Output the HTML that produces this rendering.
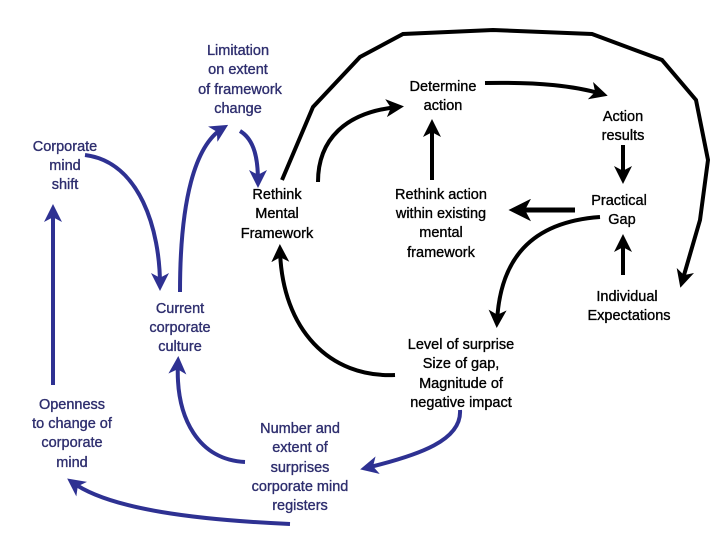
<!DOCTYPE html><html><head><style>body{margin:0;background:#fff}svg{display:block}text{font-family:"Liberation Sans",sans-serif;font-size:14.5px;text-anchor:middle;stroke-width:0.35px}.b{fill:#2e2e6e;stroke:#2e2e6e}.k{fill:#000;stroke:#000}</style></head><body>
<svg width="720" height="540" viewBox="0 0 720 540">
<defs>
<marker id="ak" markerWidth="4.5" markerHeight="4.5" refX="3" refY="2.25" orient="auto"><path d="M0,0 L4.5,2.25 L0,4.5 L1.2,2.25z" fill="#000"/></marker>
<marker id="ab" markerWidth="4.5" markerHeight="4.5" refX="3" refY="2.25" orient="auto"><path d="M0,0 L4.5,2.25 L0,4.5 L1.2,2.25z" fill="#2e3192"/></marker>
</defs>
<g fill="none" stroke="#000" stroke-width="4" marker-end="url(#ak)">
<path d="M282,180 L313,107 L360,57 L403,34 L493,30 L592,34 L662,60 L696,100 L708,160 L700,220 L682,282"/>
<path d="M318,182 C318,140 345,112 398,107"/>
<path d="M485,83 C540,82 575,86 602,94"/>
<path d="M623,145 L623,178"/>
<path d="M623,275 L623,240"/>
<path d="M575,210 L516,210" stroke-width="5"/>
<path d="M432,180 L432,125"/>
<path d="M600,217 C530,222 500,260 497,322"/>
<path d="M395,375 C330,378 282,330 280,250"/>
</g>
<g fill="none" stroke="#2e3192" stroke-width="4" marker-end="url(#ab)">
<path d="M85,155 C140,162 160,230 160,285"/>
<path d="M180,292 C180,200 195,145 223,128"/>
<path d="M240,131 C255,140 258,160 258,182"/>
<path d="M53,385 L53,210"/>
<path d="M245,462 C200,460 175,420 178,362"/>
<path d="M460,410 C462,440 420,455 366,468"/>
<path d="M290,524 C200,520 110,510 72,482"/>
</g>
<g class="b">
<text x="238" y="55">Limitation</text><text x="238" y="74">on extent</text><text x="240" y="94">of framework</text><text x="238" y="113">change</text>
<text x="65" y="151">Corporate</text><text x="65" y="170">mind</text><text x="65" y="189">shift</text>
<text x="180" y="313">Current</text><text x="180" y="332">corporate</text><text x="180" y="351">culture</text>
<text x="72" y="409">Openness</text><text x="72" y="428">to change of</text><text x="72" y="447">corporate</text><text x="72" y="467">mind</text>
<text x="300" y="433">Number and</text><text x="300" y="452">extent of</text><text x="300" y="472">surprises</text><text x="300" y="491">corporate mind</text><text x="300" y="510">registers</text>
</g>
<g class="k">
<text x="277" y="199">Rethink</text><text x="277" y="218">Mental</text><text x="277" y="238">Framework</text>
<text x="443" y="91">Determine</text><text x="443" y="110">action</text>
<text x="623" y="121">Action</text><text x="623" y="140">results</text>
<text x="441" y="199">Rethink action</text><text x="441" y="218">within existing</text><text x="441" y="237">mental</text><text x="441" y="257">framework</text>
<text x="619" y="205">Practical</text><text x="622" y="224">Gap</text>
<text x="627" y="301">Individual</text><text x="629" y="320">Expectations</text>
<text x="461" y="349">Level of surprise</text><text x="461" y="368">Size of gap,</text><text x="461" y="388">Magnitude of</text><text x="461" y="407">negative impact</text>
</g>
</svg></body></html>
